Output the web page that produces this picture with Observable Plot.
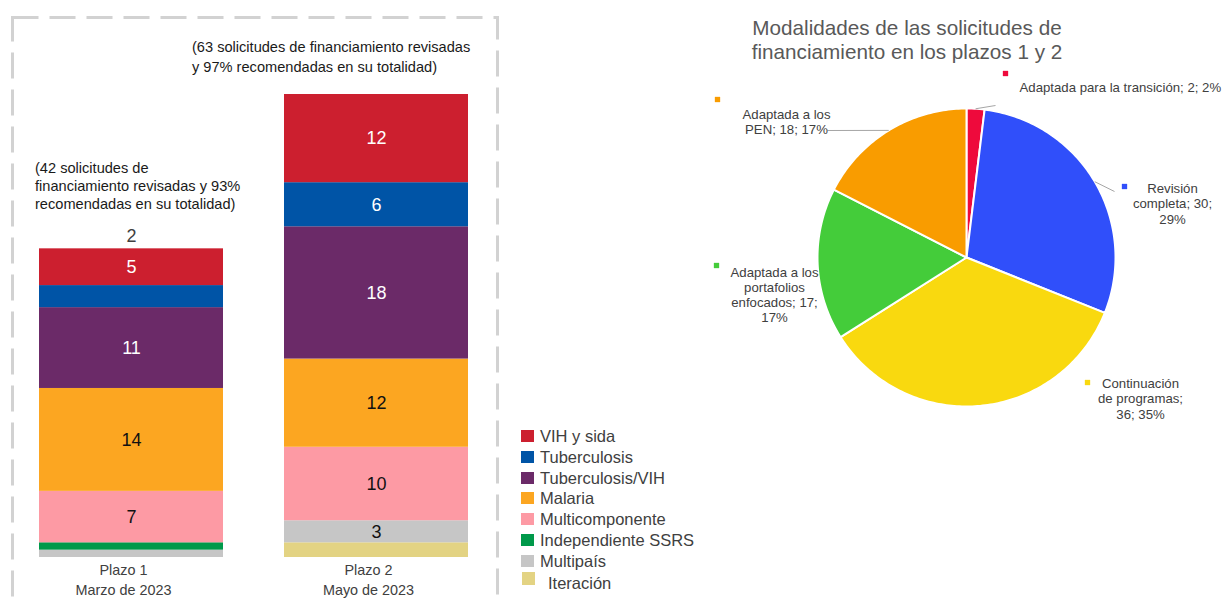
<!DOCTYPE html>
<html>
<head>
<meta charset="utf-8">
<script src="https://cdn.jsdelivr.net/npm/d3@7"></script>
<script src="https://cdn.jsdelivr.net/npm/@observablehq/plot@0.6"></script>
<style>
html, body { margin: 0; padding: 0; background: #ffffff; }
#root { position: relative; width: 1224px; height: 598px; overflow: hidden; font-family: "Liberation Sans", Arial, sans-serif; }
.abs { position: absolute; }
.note { color: #1a1a1a; font-size: 14.6px; white-space: pre-line; }
.leg-row { position: absolute; left: 521px; height: 20px; font-size: 16.5px; color: #404040; line-height: 20px; white-space: nowrap; }
.leg-sw { position: absolute; left: 0; top: 4px; width: 13px; height: 12px; }
.leg-tx { position: absolute; left: 19px; top: 0; }
#pie-title { left: 707px; top: 16px; width: 400px; text-align: center; font-size: 20.7px; line-height: 24px; color: #595959; white-space: pre-line; }
</style>
</head>
<body>
<div id="root"></div>
<script>
// ---------------- DATA ----------------
// Stacked bar (bottom to top)
const categories = ["Iteración", "Multipaís", "Independiente SSRS", "Multicomponente", "Malaria", "Tuberculosis/VIH", "Tuberculosis", "VIH y sida"];
const barColors = ["#e3d383", "#c6c6c6", "#00994a", "#fd9aa4", "#fca621", "#6b2a68", "#0054a6", "#cc1f2f"];
const plazos = ["Plazo 1", "Plazo 2"];
const plazoDates = ["Marzo de 2023", "Mayo de 2023"];
const plazo1Values = [0, 1, 1, 7, 14, 11, 3, 5];
const plazo2Values = [2, 3, 0, 10, 12, 18, 6, 12];
const plazo1Labels = ["", "", "", "7", "14", "11", "", "5"];
const plazo2Labels = ["", "3", "", "10", "12", "18", "6", "12"];
const plazo1TopLabel = "2";
const legendOrder = ["VIH y sida", "Tuberculosis", "Tuberculosis/VIH", "Malaria", "Multicomponente", "Independiente SSRS", "Multipaís", "Iteración"];
const plazoNotes = [
  "(42 solicitudes de\nfinanciamiento revisadas y 93%\nrecomendadas en su totalidad)",
  "(63 solicitudes de financiamiento revisadas\ny 97% recomendadas en su totalidad)"
];

// Pie
const pieTitle = "Modalidades de las solicitudes de\nfinanciamiento en los plazos 1 y 2";
const modalidades = ["Adaptada para la transición", "Revisión completa", "Continuación de programas", "Adaptada a los portafolios enfocados", "Adaptada a los PEN"];
const modalidadValues = [2, 30, 36, 17, 18];
const modalidadLabels = [
  "Adaptada para la transición; 2; 2%",
  "Revisión\ncompleta; 30;\n29%",
  "Continuación\nde programas;\n36; 35%",
  "Adaptada a los\nportafolios\nenfocados; 17;\n17%",
  "Adaptada a los\nPEN; 18; 17%"
];
const pieColors = ["#ee0a3c", "#304ffa", "#f9d90f", "#44cc3a", "#f99c00"];

// ---------------- LAYOUT ----------------
const FONT = "'Liberation Sans', Arial, sans-serif";
const root = document.getElementById("root");

function addDiv(cls, styleObj, text) {
  const d = document.createElement("div");
  d.className = cls;
  Object.assign(d.style, styleObj);
  if (text != null) d.textContent = text;
  root.appendChild(d);
  return d;
}

// ---------------- BAR CHART ----------------
const barRows = [];
[plazo1Values, plazo2Values].forEach((vals, p) => {
  const labs = p === 0 ? plazo1Labels : plazo2Labels;
  categories.forEach((c, i) => barRows.push({plazo: plazos[p], cat: c, value: vals[i], label: labs[i]}));
});
const darkCats = new Set(["VIH y sida", "Tuberculosis", "Tuberculosis/VIH"]);
const topLabels = [{plazo: plazos[0], total: d3.sum(plazo1Values), label: plazo1TopLabel}];
const axisRows = plazos.map((p, i) => ({plazo: p, text: p + "\n" + plazoDates[i]}));

const bar = Plot.plot({
  width: 510,
  height: 598,
  marginLeft: 12,
  marginRight: 13,
  marginTop: 17,
  marginBottom: 41,
  style: {fontFamily: FONT, background: "transparent", color: "#404040"},
  x: {domain: plazos, range: [39, 468], paddingInner: 0.25, paddingOuter: 0, axis: null},
  y: {domain: [0, 63], range: [557, 94], axis: null},
  color: {domain: categories, range: barColors},
  marks: [
    Plot.frame({stroke: "#d2d2d2", strokeWidth: 3, strokeDasharray: "26,11", insetBottom: -60}),
    Plot.barY(barRows, {x: "plazo", y: "value", fill: "cat"}),
    Plot.text(barRows, Plot.stackY({x: "plazo", y: "value", text: d => darkCats.has(d.cat) ? d.label : "", fill: "#ffffff", fontSize: 18})),
    Plot.text(barRows, Plot.stackY({x: "plazo", y: "value", text: d => darkCats.has(d.cat) ? "" : d.label, fill: "#111111", fontSize: 18})),
    Plot.text(topLabels, {x: "plazo", y: "total", text: "label", dy: -13, fontSize: 18, fill: "#404040"}),
    Plot.text(axisRows, {x: "plazo", y: () => 0, text: "text", lineAnchor: "top", dy: 3, dx: -8, fontSize: 14.4, lineHeight: 1.4, fill: "#404040"})
  ]
});
const barWrap = addDiv("abs", {left: "0px", top: "0px"});
barWrap.appendChild(bar);

// Notes above bars
addDiv("abs note", {left: "35px", top: "159px", lineHeight: "18px"}, plazoNotes[0]);
addDiv("abs note", {left: "192px", top: "37px", lineHeight: "20px"}, plazoNotes[1]);

// Legend
legendOrder.forEach((name, i) => {
  const isLast = name === "Iteración";
  const row = addDiv("leg-row", {top: (isLast ? 573 : 426 + i * 20.8) + "px"});
  const sw = document.createElement("div");
  sw.className = "leg-sw";
  sw.style.background = barColors[categories.indexOf(name)];
  if (isLast) { sw.style.left = "1px"; sw.style.top = "-1px"; sw.style.height = "13px"; }
  const tx = document.createElement("div");
  tx.className = "leg-tx";
  if (isLast) tx.style.left = "27px";
  tx.textContent = name;
  row.appendChild(sw);
  row.appendChild(tx);
});

// ---------------- PIE ----------------
addDiv("abs", {}, pieTitle).id = "pie-title";

const R = 149; // pixel radius used for label offsets
const pieRows = modalidades.map((m, i) => ({name: m, value: modalidadValues[i], label: modalidadLabels[i]}));
const arcs = d3.pie().sort(null).value(d => d.value)(pieRows);

const slicePts = [];
arcs.forEach(a => {
  const name = a.data.name;
  const n = Math.max(3, Math.ceil((a.endAngle - a.startAngle) / (Math.PI / 180)));
  slicePts.push({name, x: 0, y: 0});
  for (let k = 0; k <= n; k++) {
    const t = a.startAngle + (a.endAngle - a.startAngle) * k / n;
    slicePts.push({name, x: Math.sin(t), y: Math.cos(t)});
  }
  slicePts.push({name, x: 0, y: 0});
});

// label placement (pixel offsets from pie centre)
const labelPos = {
  "Adaptada para la transición": {tx: 53, ty: -170, mx: 39, my: -184, lx: 29, ly: -152, anchor: "start"},
  "Revisión completa": {tx: 206, ty: -54, mx: 158, my: -71, lx: 148, ly: -66, anchor: "middle"},
  "Continuación de programas": {tx: 174, ty: 141, mx: 121, my: 125, anchor: "middle"},
  "Adaptada a los portafolios enfocados": {tx: -192, ty: 37, mx: -250, my: 8, anchor: "middle"},
  "Adaptada a los PEN": {tx: -180, ty: -136, mx: -249, my: -158, lx: -139, ly: -127, anchor: "middle"}
};
const labelRows = arcs.map(a => {
  const p = labelPos[a.data.name];
  const mid = (a.startAngle + a.endAngle) / 2;
  return {
    name: a.data.name, label: a.data.label, anchor: p.anchor,
    tx: p.tx / R, ty: -p.ty / R, mx: p.mx / R, my: -p.my / R,
    ex: Math.sin(mid), ey: Math.cos(mid),
    lx: p.lx != null ? p.lx / R : null, ly: p.ly != null ? -p.ly / R : null
  };
});
const leaderRows = labelRows.filter(d => d.lx != null);

const pie = Plot.plot({
  width: 524,
  height: 598,
  margin: 0,
  style: {fontFamily: FONT, background: "transparent"},
  x: {domain: [-1, 1], range: [117, 415], axis: null},
  y: {domain: [-1, 1], range: [406, 108], axis: null},
  color: {domain: modalidades, range: pieColors},
  marks: [
    Plot.line(slicePts, {x: "x", y: "y", z: "name", fill: "name", stroke: "#ffffff", strokeWidth: 2, strokeLinejoin: "round", curve: "linear"}),
    Plot.link(leaderRows, {x1: "ex", y1: "ey", x2: "lx", y2: "ly", stroke: "#a6a6a6", strokeWidth: 1}),
    Plot.dot(labelRows, {x: "mx", y: "my", fill: "name", symbol: "square", r: 3}),
    Plot.text(labelRows.filter(d => d.anchor === "start"), {x: "tx", y: "ty", text: "label", textAnchor: "start", fontSize: 13.2, fill: "#404040"}),
    Plot.text(labelRows.filter(d => d.anchor === "middle"), {x: "tx", y: "ty", text: "label", textAnchor: "middle", fontSize: 13.2, lineHeight: 1.15, fill: "#404040"})
  ]
});
const pieWrap = addDiv("abs", {left: "700px", top: "0px"});
pieWrap.appendChild(pie);
</script>
</body>
</html>
